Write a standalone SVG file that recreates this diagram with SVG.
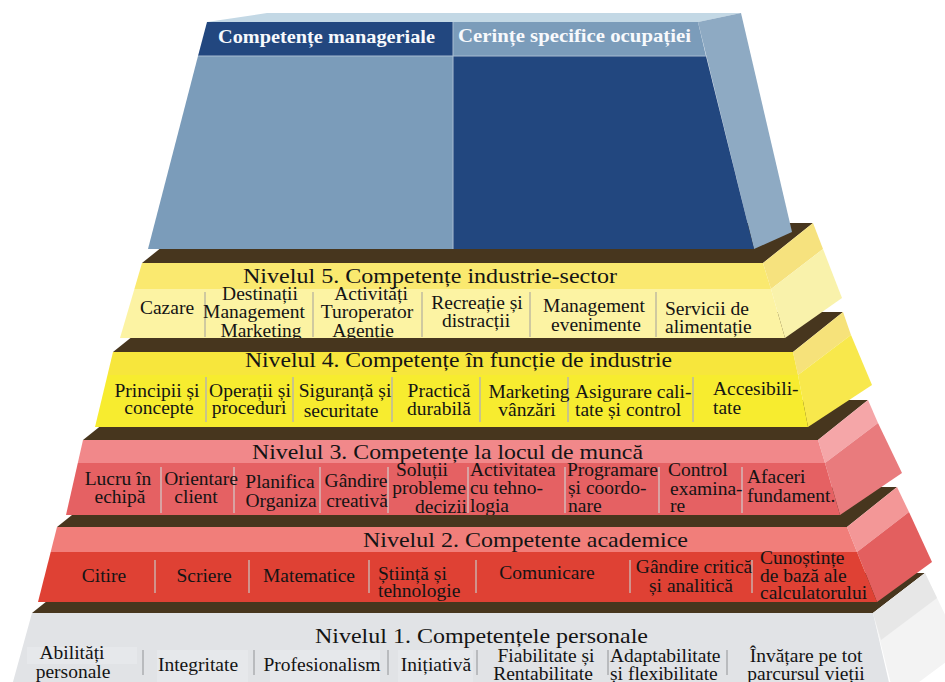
<svg xmlns="http://www.w3.org/2000/svg" width="945" height="682" viewBox="0 0 945 682">
<defs>
<style>
.br{fill:#47361e}
.t{font-family:"Liberation Serif","Times New Roman",serif;font-size:21px;fill:#141414}
.i{font-family:"Liberation Serif","Times New Roman",serif;font-size:19.5px;fill:#141414;text-anchor:middle}
.i .s,.s{text-anchor:start}
.h{font-family:"Liberation Serif","Times New Roman",serif;font-size:19px;font-weight:bold;fill:#f7f9fc}
.sep5{stroke:#cfc9a0;stroke-width:2}
.sep4{stroke:#c9c48a;stroke-width:2}
.sep3{stroke:#d9a2a2;stroke-width:2}
.sep2{stroke:#d1928b;stroke-width:2}
.sep1{stroke:#b9bbbe;stroke-width:2}
</style>
<clipPath id="c1"><polygon points="32,613 873,613 893,700 8,700"/></clipPath>
<clipPath id="c2"><polygon points="57,527 847,527 877,602 38,602"/></clipPath>
<clipPath id="c3"><polygon points="83,440 818,440 840,515 66,515"/></clipPath>
<clipPath id="c4"><polygon points="113,352 793,352 808,427 95,427"/></clipPath>
<clipPath id="c5"><polygon points="142,263 763,263 785,338 120,338"/></clipPath>
</defs>
<rect width="945" height="682" fill="#ffffff"/>

<g id="level1">
<polygon class="br" points="32,613 82,573 925,573 873,613"/>
<polygon points="873,613 925,573 962,650 895,700" fill="#f3f3f3"/>
<polygon points="873,613 925,573 937,598 881,640" fill="#e7e7e7"/>
<polygon points="32,613 873,613 893,700 8,700" fill="#e1e3e6"/>
<g fill="#e6e8eb">
<rect x="27" y="647" width="110" height="17"/>
<rect x="157" y="650" width="91" height="32"/>
<rect x="270" y="650" width="110" height="32"/>
<rect x="398" y="650" width="75" height="32"/>
</g>
<text class="t" x="315" y="643" textLength="333" lengthAdjust="spacingAndGlyphs">Nivelul 1. Competențele personale</text>
<g class="sep1">
<line x1="143" y1="650" x2="143" y2="675"/>
<line x1="254" y1="650" x2="254" y2="675"/>
<line x1="388" y1="650" x2="388" y2="675"/>
<line x1="477" y1="650" x2="477" y2="675"/>
<line x1="608" y1="650" x2="608" y2="675"/>
<line x1="727" y1="650" x2="727" y2="675"/>
</g>
<g class="i" clip-path="url(#c1)">
<text x="72" y="659">Abilități</text>
<text x="73" y="678">personale</text>
<text x="198" y="671">Integritate</text>
<text x="322" y="671">Profesionalism</text>
<text x="436" y="671">Inițiativă</text>
<text x="546" y="662">Fiabilitate și</text>
<text x="543" y="680">Rentabilitate</text>
<text class="s" x="610" y="662">Adaptabilitate</text>
<text class="s" x="610" y="680">și flexibilitate</text>
<text x="806" y="662">Învățare pe tot</text>
<text x="806" y="680">parcursul vieții</text>
</g>
</g>

<g id="level2">
<polygon class="br" points="57,527 107,487 897,487 847,527"/>
<polygon points="847,527 897,487 909,512 857,552" fill="#f39797"/>
<polygon points="857,552 909,512 932,562 877,602" fill="#e35f5f"/>
<polygon points="57,527 847,527 857,552 50.7,552" fill="#f17e7a"/>
<polygon points="50.7,552 857,552 877,602 38,602" fill="#df4134"/>
<text class="t" x="363" y="547" textLength="325" lengthAdjust="spacingAndGlyphs">Nivelul 2. Competente academice</text>
<g class="sep2">
<line x1="155" y1="560" x2="155" y2="593"/>
<line x1="249" y1="560" x2="249" y2="593"/>
<line x1="369" y1="560" x2="369" y2="593"/>
<line x1="476" y1="560" x2="476" y2="593"/>
<line x1="630" y1="560" x2="630" y2="593"/>
<line x1="752" y1="560" x2="752" y2="593"/>
</g>
<g class="i" clip-path="url(#c2)">
<text x="104" y="582">Citire</text>
<text x="204" y="582">Scriere</text>
<text x="309" y="582">Matematice</text>
<text class="s" x="378" y="580">Știință și</text>
<text class="s" x="378" y="597">tehnologie</text>
<text x="547" y="579">Comunicare</text>
<text x="694" y="573">Gândire critică</text>
<text x="691" y="592">și analitică</text>
<text class="s" x="760" y="564">Cunoștințe</text>
<text class="s" x="760" y="582">de bază ale</text>
<text class="s" x="760" y="599">calculatorului</text>
</g>
</g>

<g id="level3">
<polygon class="br" points="83,440 133,400 868,400 818,440"/>
<polygon points="818,440 868,400 878,423 825,463" fill="#f5a6a8"/>
<polygon points="825,463 878,423 902,473 840,515" fill="#e97b7d"/>
<polygon points="83,440 818,440 825,463 77.8,463" fill="#f1888a"/>
<polygon points="77.8,463 825,463 840,515 66,515" fill="#e56163"/>
<text class="t" x="252" y="459" textLength="391" lengthAdjust="spacingAndGlyphs">Nivelul 3. Competențe la locul de muncă</text>
<g class="sep3">
<line x1="161" y1="467" x2="161" y2="513"/>
<line x1="234" y1="467" x2="234" y2="513"/>
<line x1="320" y1="467" x2="320" y2="513"/>
<line x1="388" y1="467" x2="388" y2="513"/>
<line x1="468" y1="467" x2="468" y2="513"/>
<line x1="565" y1="467" x2="565" y2="513"/>
<line x1="659" y1="467" x2="659" y2="513"/>
<line x1="742" y1="467" x2="742" y2="513"/>
</g>
<g class="i" clip-path="url(#c3)">
<text x="118" y="485">Lucru în</text>
<text x="120" y="503">echipă</text>
<text x="201" y="485">Orientare</text>
<text x="196" y="503">client</text>
<text x="280" y="488">Planifica</text>
<text x="281" y="507">Organiza</text>
<text x="356" y="487">Gândire</text>
<text x="357" y="507">creativă</text>
<text x="422" y="476">Soluții</text>
<text x="429" y="494">probleme</text>
<text x="441" y="513">decizii</text>
<text class="s" x="470" y="476">Activitatea</text>
<text class="s" x="470" y="494">cu tehno-</text>
<text class="s" x="470" y="512">logia</text>
<text class="s" x="567" y="476">Programare</text>
<text class="s" x="568" y="494">și coordo-</text>
<text class="s" x="568" y="512">nare</text>
<text class="s" x="668" y="476">Control</text>
<text class="s" x="670" y="495">examina-</text>
<text class="s" x="670" y="512">re</text>
<text class="s" x="747" y="483">Afaceri</text>
<text class="s" x="747" y="502">fundament.</text>
</g>
</g>

<g id="level4">
<polygon class="br" points="113,352 163,312 843,312 793,352"/>
<polygon points="793,352 843,312 851,335 798,375" fill="#f6e27a"/>
<polygon points="798,375 851,335 872,385 808,427" fill="#f8e84c"/>
<polygon points="113,352 793,352 798,375 107.5,375" fill="#f7e63c"/>
<polygon points="107.5,375 798,375 808,427 95,427" fill="#f7ec2f"/>
<text class="t" x="245" y="367" textLength="427" lengthAdjust="spacingAndGlyphs">Nivelul 4. Competențe în funcție de industrie</text>
<g class="sep4">
<line x1="206" y1="377" x2="206" y2="422"/>
<line x1="293" y1="377" x2="293" y2="422"/>
<line x1="392" y1="377" x2="392" y2="422"/>
<line x1="480" y1="377" x2="480" y2="422"/>
<line x1="568" y1="377" x2="568" y2="422"/>
<line x1="693" y1="377" x2="693" y2="422"/>
</g>
<g class="i" clip-path="url(#c4)">
<text x="157" y="397">Principii și</text>
<text x="159" y="414">concepte</text>
<text x="250" y="397">Operații și</text>
<text x="249" y="414">proceduri</text>
<text x="345" y="397">Siguranță și</text>
<text x="341" y="417">securitate</text>
<text x="439" y="397">Practică</text>
<text x="439" y="415">durabilă</text>
<text x="529" y="398">Marketing</text>
<text x="527" y="416">vânzări</text>
<text class="s" x="575" y="398">Asigurare cali-</text>
<text class="s" x="575" y="416">tate și control</text>
<text class="s" x="713" y="395">Accesibili-</text>
<text class="s" x="713" y="414">tate</text>
</g>
</g>

<g id="level5">
<polygon class="br" points="142,263 192,223 813,223 763,263"/>
<polygon points="763,263 813,223 823,249 771,289" fill="#f6e27e"/>
<polygon points="771,289 823,249 842,298 785,338" fill="#f9f2ab"/>
<polygon points="142,263 763,263 771,289 134.4,289" fill="#fae96f"/>
<polygon points="134.4,289 771,289 785,338 120,338" fill="#fcf3a3"/>
<text class="t" x="243" y="283" textLength="374" lengthAdjust="spacingAndGlyphs">Nivelul 5. Competențe industrie-sector</text>
<g class="sep5">
<line x1="205" y1="292" x2="205" y2="337"/>
<line x1="313" y1="292" x2="313" y2="337"/>
<line x1="422" y1="292" x2="422" y2="337"/>
<line x1="530" y1="292" x2="530" y2="337"/>
<line x1="656" y1="292" x2="656" y2="337"/>
</g>
<g class="i" clip-path="url(#c5)">
<text x="167" y="314">Cazare</text>
<text x="260" y="300">Destinații</text>
<text x="254" y="318">Management</text>
<text x="261" y="337">Marketing</text>
<text x="371" y="300">Activități</text>
<text x="367" y="318">Turoperator</text>
<text x="363" y="337">Agenție</text>
<text x="477" y="309">Recreație și</text>
<text x="476" y="327">distracții</text>
<text x="594" y="312">Management</text>
<text x="596" y="331">evenimente</text>
<text class="s" x="665" y="315">Servicii de</text>
<text class="s" x="665" y="333">alimentație</text>
</g>
</g>

<g id="top">
<polygon points="207,22 267,13 741,13 698,22" fill="#c3d8e5"/>
<polygon points="698,22 741,13 792,232 754,249" fill="#8eaac3"/>
<polygon points="198,56 453,56 453,249 148,249" fill="#7b9cba"/>
<polygon points="453,56 706,56 754,249 453,249" fill="#22477f"/>
<polygon points="207,22 453,22 453,56 198,56" fill="#22477f"/>
<polygon points="453,22 698,22 706,56 453,56" fill="#7b9cba"/>
<line x1="453" y1="22" x2="453" y2="249" stroke="#a9bdd2" stroke-width="1"/>
<line x1="198" y1="56" x2="706" y2="56" stroke="#a9bdd2" stroke-width="1"/>
<text class="h" x="218" y="43" textLength="217" lengthAdjust="spacingAndGlyphs">Competențe manageriale</text>
<text class="h" x="458" y="42" textLength="233" lengthAdjust="spacingAndGlyphs">Cerințe specifice ocupației</text>
</g>

<g id="connectors"/>
</svg>
